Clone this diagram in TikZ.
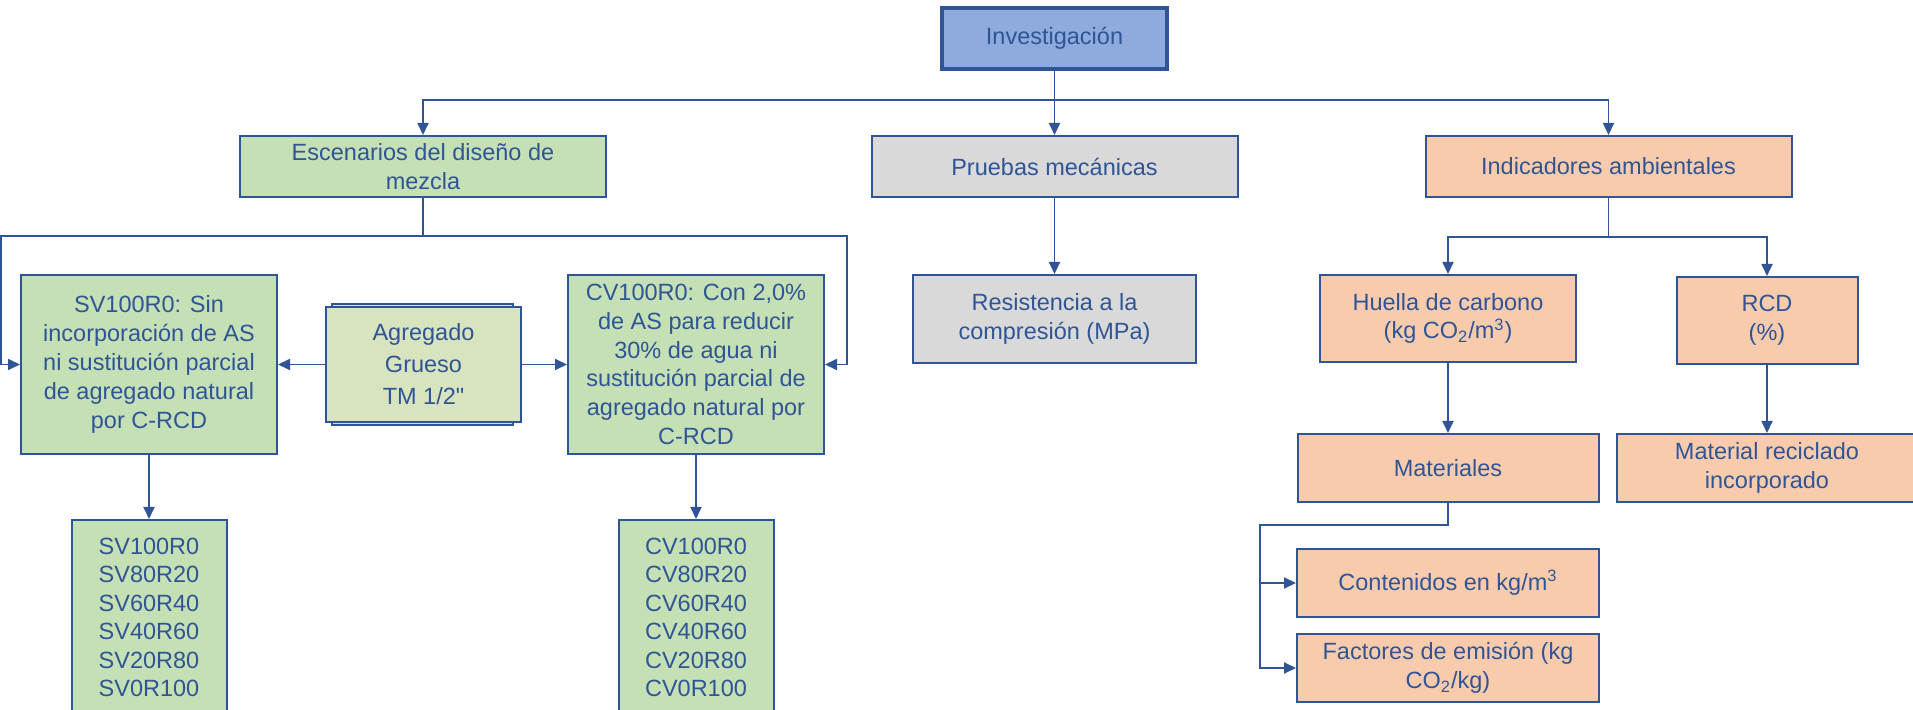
\documentclass[tikz,border=0pt]{standalone}
\usepackage{fontspec}
\setmainfont{Liberation Sans}[Ligatures=TeXOff]
\usepackage{tikz}
\usetikzlibrary{arrows.meta}

\definecolor{lineblue}{HTML}{2F5597}
\definecolor{invfill}{HTML}{8FAADC}
\definecolor{escfill}{HTML}{C5E0B4}
\definecolor{agrfill}{HTML}{D7E4BD}
\definecolor{prufill}{HTML}{D9D9D9}
\definecolor{indfill}{HTML}{F8CBAD}

\begin{document}
\begin{tikzpicture}[x=0.5pt, y=-0.5pt, >={Triangle[length=6pt, width=5.5pt]},
  box/.style={draw=lineblue, line width=1pt, text=lineblue, align=center, inner sep=0pt,
    font=\fontsize{11.75}{14.4}\selectfont},
  link/.style={draw=lineblue, line width=0.9pt}]
  \useasboundingbox (0,0) rectangle (1913,710);

  % Root
  \node[box, fill=invfill, line width=2pt, minimum width=112.5pt, minimum height=30.5pt]
    (inv) at (1054.5,38.5) {Investigación};

  % First level
  \node[box, fill=escfill, minimum width=183pt, minimum height=30.5pt]
    (esc) at (423,166.5) {Escenarios del diseño de\\mezcla};
  \node[box, fill=prufill, minimum width=183pt, minimum height=30.5pt]
    (pru) at (1054.5,166.5) {Pruebas mecánicas};
  \node[box, fill=indfill, minimum width=183pt, minimum height=30.5pt]
    (ind) at (1608.5,166.5) {Indicadores ambientales};

  % Mixture scenarios
  \node[box, fill=escfill, minimum width=128pt, minimum height=89.5pt]
    (sv) at (149,364.5) {SV100R0: Sin\\incorporación de AS\\ni sustitución parcial\\de agregado natural\\por C-RCD};
  \draw[lineblue, line width=1pt, fill=agrfill] (332,304) rectangle (513,425);
  \node[box, fill=agrfill, minimum width=97.5pt, minimum height=57.5pt,
    font=\fontsize{11.75}{16}\selectfont]
    (agr) at (423.5,364.5) {Agregado\\Grueso\\TM 1/2"};
  \node[box, fill=escfill, minimum width=128pt, minimum height=89.5pt]
    (cv) at (696,364.5) {CV100R0: Con 2,0\%\\de AS para reducir\\30\% de agua ni\\sustitución parcial de\\agregado natural por\\C-RCD};
  \node[box, fill=escfill, minimum width=77.5pt, minimum height=97.5pt,
    font=\fontsize{11.75}{14.2}\selectfont]
    (svl) at (149,617.5) {SV100R0\\SV80R20\\SV60R40\\SV40R60\\SV20R80\\SV0R100};
  \node[box, fill=escfill, minimum width=77.5pt, minimum height=97.5pt,
    font=\fontsize{11.75}{14.2}\selectfont]
    (cvl) at (696,617.5) {CV100R0\\CV80R20\\CV60R40\\CV40R60\\CV20R80\\CV0R100};

  % Mechanical tests
  \node[box, fill=prufill, minimum width=141.5pt, minimum height=44pt]
    (res) at (1054.5,319) {Resistencia a la\\compresión (MPa)};

  % Environmental indicators
  \node[box, fill=indfill, minimum width=128pt, minimum height=43.5pt]
    (hue) at (1448,318.5) {Huella de carbono\\(kg CO\textsubscript{2}/m\textsuperscript{3})};
  \node[box, fill=indfill, minimum width=90.5pt, minimum height=43.5pt]
    (rcd) at (1767,320.5) {RCD\\(\%)};
  \node[box, fill=indfill, minimum width=150.5pt, minimum height=34pt]
    (mat) at (1448,468) {Materiales};
  \node[box, fill=indfill, minimum width=150.5pt, minimum height=34pt]
    (mrc) at (1767,468) {Material reciclado\\incorporado};
  \node[box, fill=indfill, minimum width=151pt, minimum height=34pt]
    (con) at (1448,583) {Contenidos en kg/m\textsuperscript{3}};
  \node[box, fill=indfill, minimum width=151pt, minimum height=34pt]
    (fac) at (1448,668) {Factores de emisión (kg\\CO\textsubscript{2}/kg)};

  % Connectors
  \coordinate (trunk) at (1054.5,100);
  \draw[link, ->] (inv) -- (pru);
  \draw[link, ->] (trunk) -| (esc);
  \draw[link, ->] (trunk) -| (ind);

  \coordinate (escL) at (1,236);
  \coordinate (escR) at (847,236);
  \draw[link, ->] (esc) |- (escL) |- (sv);
  \draw[link, ->] (esc) |- (escR) |- (cv);
  \draw[link, ->] (agr) -- (sv);
  \draw[link, ->] (agr) -- (cv);
  \draw[link, ->] (sv) -- (svl);
  \draw[link, ->] (cv) -- (cvl);

  \draw[link, ->] (pru) -- (res);

  \coordinate (indbus) at (1608.5,237);
  \draw[link] (ind) -- (indbus);
  \draw[link, ->] (indbus) -| (hue);
  \draw[link, ->] (indbus) -| (rcd);
  \draw[link, ->] (hue) -- (mat);
  \draw[link, ->] (rcd) -- (mrc);
  \coordinate (matbus) at (1260,525);
  \draw[link, ->] (mat) |- (matbus) |- (con);
  \draw[link, ->] (mat) |- (matbus) |- (fac);
\end{tikzpicture}
\end{document}
